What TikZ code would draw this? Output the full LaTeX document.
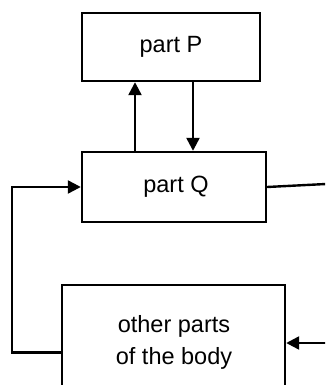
\documentclass[tikz,border=0pt]{standalone}
\usepackage{fontspec}
\setmainfont{Liberation Sans}
\usetikzlibrary{arrows.meta}
\begin{document}
\begin{tikzpicture}[x=1pt,y=-1pt,
  box/.style={draw,line width=2.4pt,rectangle,inner sep=0pt},
  lbl/.style={font=\fontsize{23.5}{32}\selectfont,align=center,inner sep=0pt},
  conn/.style={line width=2.4pt},
  arr/.style={conn,-{Triangle[length=13pt,width=13pt]}}]
\useasboundingbox (0,0) rectangle (325,385);
\clip (0,0) rectangle (325,385);
\node[box,minimum width=178pt,minimum height=68pt] (P) at (171,47) {};
\node[lbl] (Pt) at (171,47) {part P};
\node[box,minimum width=184pt,minimum height=70pt] (Q) at (174,187) {};
\node[lbl] (Qt) at (176,187) {part Q};
\node[box,minimum width=223pt,minimum height=135pt] (O) at (173.5,352.5) {};
\node[lbl] (Ot) at (174,342) {other parts\\of the body};
\coordinate (ux) at (135,0);
\coordinate (dx) at (193,0);
\coordinate (lx) at (12,0);
\coordinate (qr) at (326,184);
\coordinate (inr) at (326,343);
\draw[arr] (Q.north -| ux) -- (P.south -| ux);
\draw[arr] (P.south -| dx) -- (Q.north -| dx);
\draw[arr] (O.west) -| (lx |- Q.west) -- (Q.west);
\draw[conn] (Q.east) -- (qr);
\draw[arr] (inr) -- (O.east |- inr);
\end{tikzpicture}
\end{document}
